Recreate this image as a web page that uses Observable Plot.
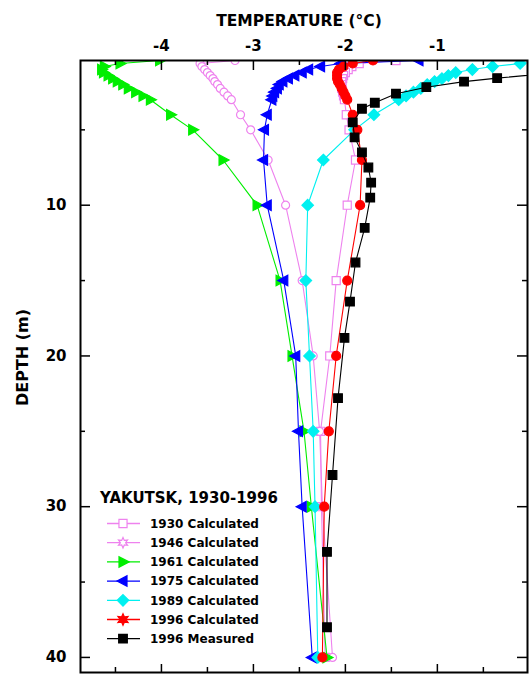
<!DOCTYPE html>
<html><head><meta charset="utf-8">
<script src="https://cdn.jsdelivr.net/npm/d3@7"></script>
<script src="https://cdn.jsdelivr.net/npm/@observablehq/plot@0.6"></script>
<style>
body{margin:0;background:#fff;}
#wrap{position:relative;width:532px;height:675px;}
#legend{position:absolute;left:0;top:0;pointer-events:none;}
</style></head><body><div id="wrap"></div>
<script>
// ---- data ----
const depthCalc = [0.4,0.6,0.8,1.0,1.2,1.4,1.6,1.8,2.0,2.25,2.5,2.75,3.0,4,5,7,10,15,20,25,30,40];
const t1930 = [-1.45,-1.85,-1.93,-1.97,-2.00,-2.02,-2.03,-2.04,-2.04,-2.04,-2.03,-2.02,-2.01,-1.99,-1.96,-1.89,-1.98,-2.10,-2.17,-2.27,-2.26,-2.22];
const t1946 = [-3.20,-3.58,-3.56,-3.53,-3.50,-3.47,-3.44,-3.42,-3.39,-3.36,-3.32,-3.28,-3.24,-3.14,-3.03,-2.84,-2.65,-2.47,-2.35,-2.28,-2.25,-2.14];
const t1961 = [-4.02,-4.45,-4.62,-4.65,-4.63,-4.58,-4.53,-4.48,-4.42,-4.36,-4.28,-4.20,-4.12,-3.90,-3.66,-3.33,-2.96,-2.71,-2.58,-2.45,-2.37,-2.20];
const t1975 = [-1.20,-2.05,-2.27,-2.40,-2.47,-2.55,-2.62,-2.68,-2.72,-2.74,-2.77,-2.79,-2.80,-2.85,-2.88,-2.89,-2.85,-2.67,-2.54,-2.51,-2.47,-2.36];
const t1989 = [0.05,-0.10,-0.40,-0.62,-0.80,-0.88,-0.95,-1.03,-1.11,-1.18,-1.26,-1.34,-1.42,-1.69,-1.90,-2.24,-2.41,-2.43,-2.39,-2.35,-2.33,-2.30];
const t1996c = [-1.70,-1.92,-2.02,-2.07,-2.09,-2.09,-2.09,-2.08,-2.06,-2.04,-2.02,-2.00,-1.98,-1.92,-1.87,-1.82,-1.84,-1.98,-2.10,-2.18,-2.23,-2.25];
const depthMeas = [1.2,1.57,1.8,2.17,2.6,3.2,3.6,4.5,5.5,6.5,7.5,8.5,9.5,11.5,13.8,16.4,18.8,22.8,27.9,33,38];
const tMeas = [0.3,-0.35,-0.71,-1.12,-1.45,-1.68,-1.82,-1.92,-1.90,-1.82,-1.75,-1.72,-1.73,-1.79,-1.89,-1.95,-2.01,-2.08,-2.14,-2.20,-2.20];

const seriesNames = ["1930 Calculated","1946 Calculated","1961 Calculated","1975 Calculated","1989 Calculated","1996 Calculated","1996 Measured"];
const xMajor = [-4,-3,-2,-1];
const xMinor = [-4.5,-3.5,-2.5,-1.5,-0.5];
const yMajor = [10,20,30,40];
const yMinor = [5,15,25,35];
const titleText = "TEMPERATURE (°C)";
const yTitle = "DEPTH (m)";
const legendTitle = "YAKUTSK, 1930-1996";

// ---- symbols ----
const R = s => Math.sqrt(s/Math.PI);
const sym = {
  square:{draw(c,s){const a=R(s)*0.9;c.moveTo(-a,-a);c.lineTo(a,-a);c.lineTo(a,a);c.lineTo(-a,a);c.closePath();}},
  circle:{draw(c,s){const r=R(s);c.moveTo(r,0);c.arc(0,0,r,0,2*Math.PI);c.closePath();}},
  triR:{draw(c,s){const r=R(s);c.moveTo(r*1.2,0);c.lineTo(-r*0.8,-r*1.05);c.lineTo(-r*0.8,r*1.05);c.closePath();}},
  triL:{draw(c,s){const r=R(s);c.moveTo(-r*1.2,0);c.lineTo(r*0.8,-r*1.05);c.lineTo(r*0.8,r*1.05);c.closePath();}},
  diamond:{draw(c,s){const r=R(s)*1.15;c.moveTo(0,-r);c.lineTo(r,0);c.lineTo(0,r);c.lineTo(-r,0);c.closePath();}},
  star:{draw(c,s){const r=R(s)*1.3, ri=r*0.5;for(let i=0;i<12;i++){const a=i*Math.PI/6-Math.PI/2, rr=i%2?ri:r;const x=rr*Math.cos(a),y=rr*Math.sin(a);i?c.lineTo(x,y):c.moveTo(x,y);}c.closePath();}}
};

const series = [
  {name:seriesNames[0], depths:depthCalc, temps:t1930, color:"#ee82ee", symbol:sym.square, fill:"white", r:4.5, lsym:sym.square},
  {name:seriesNames[1], depths:depthCalc, temps:t1946, color:"#ee82ee", symbol:sym.circle, fill:"white", r:4, lsym:sym.star},
  {name:seriesNames[2], depths:depthCalc, temps:t1961, color:"#00ee00", symbol:sym.triR, fill:"#00ee00", r:5, lsym:sym.triR},
  {name:seriesNames[3], depths:depthCalc, temps:t1975, color:"#0000ff", symbol:sym.triL, fill:"#0000ff", r:5, lsym:sym.triL},
  {name:seriesNames[4], depths:depthCalc, temps:t1989, color:"#00f0f0", symbol:sym.diamond, fill:"#00f0f0", r:5, lsym:sym.diamond},
  {name:seriesNames[5], depths:depthCalc, temps:t1996c, color:"#ff0000", symbol:sym.circle, fill:"#ff0000", r:4.5, lsym:sym.star},
  {name:seriesNames[6], depths:depthMeas, temps:tMeas, color:"#000000", symbol:sym.square, fill:"#000000", r:4.8, lsym:sym.square}
];

const W=532, H=675, mL=80, mR=5, mT=60, mB=3;
const innerW=W-mL-mR, innerH=H-mT-mB;
const font = "'DejaVu Sans', Verdana, sans-serif";

const marks = [];
for (const s of series) {
  const rows = s.depths.map((d,i)=>({depth:d, temp:s.temps[i]}));
  marks.push(Plot.line(rows, {x:"temp", y:"depth", stroke:s.color, strokeWidth:1.1, clip:true}));
  marks.push(Plot.dot(rows, {x:"temp", y:"depth", symbol:s.symbol, r:s.r, fill:s.fill, stroke:s.color, strokeWidth:1.2, clip:true}));
}
marks.push(
  Plot.tickX(xMajor, {x:d=>d, insetBottom:innerH-10, stroke:"black", strokeWidth:1.5}),
  Plot.tickX(xMinor, {x:d=>d, insetBottom:innerH-5, stroke:"black", strokeWidth:1.5}),
  Plot.tickX(xMajor, {x:d=>d, insetTop:innerH-8, stroke:"black", strokeWidth:1.5}),
  Plot.tickX(xMinor, {x:d=>d, insetTop:innerH-5, stroke:"black", strokeWidth:1.5}),
  Plot.tickY(yMajor, {y:d=>d, insetRight:innerW-10, stroke:"black", strokeWidth:1.5}),
  Plot.tickY(yMinor, {y:d=>d, insetRight:innerW-5, stroke:"black", strokeWidth:1.5}),
  Plot.tickY(yMajor, {y:d=>d, insetLeft:innerW-10, stroke:"black", strokeWidth:1.5}),
  Plot.tickY(yMinor, {y:d=>d, insetLeft:innerW-5, stroke:"black", strokeWidth:1.5}),
  Plot.frame({stroke:"black", strokeWidth:2}),
  Plot.axisX(xMajor, {anchor:"top", tickSize:0, tickPadding:10, tickFormat:d=>String(d), fontSize:15, fontWeight:"bold", fill:"black", label:null}),
  Plot.axisY(yMajor, {anchor:"left", tickSize:0, tickPadding:14, tickFormat:d=>String(d), fontSize:15, fontWeight:"bold", fill:"black", label:null}),
  Plot.text([titleText], {text:d=>d, frameAnchor:"top", dx:-5, dy:-46, fontSize:15.5, fontWeight:"bold", fill:"black"}),
  Plot.text([yTitle], {text:d=>d, frameAnchor:"left", textAnchor:"middle", dx:-58, dy:-9, rotate:-90, fontSize:16, fontWeight:"bold", fill:"black"})
);

const chart = Plot.plot({
  width:W, height:H, marginLeft:mL, marginRight:mR, marginTop:mT, marginBottom:mB,
  x:{domain:[-4.88,-0.02]},
  y:{domain:[0.4,41], reverse:true},
  style:{fontFamily:font, background:"white", color:"black"},
  marks
});
const wrap = document.getElementById("wrap");
wrap.appendChild(chart);

// ---- legend ----
const lg = d3.select(wrap).append("svg").attr("id","legend").attr("width",W).attr("height",H)
  .style("font-family", font);
lg.append("text").attr("x",100).attr("y",503).attr("font-size",15).attr("font-weight","bold")
  .attr("fill","black").text(legendTitle);
series.forEach((s,i)=>{
  const y = 523.5 + i*19.2;
  lg.append("line").attr("x1",107).attr("x2",140).attr("y1",y).attr("y2",y).attr("stroke",s.color).attr("stroke-width",1.3);
  lg.append("path").attr("d", d3.symbol(s.lsym, Math.PI*s.r*s.r)()).attr("transform",`translate(123,${y})`)
    .attr("fill", s.fill).attr("stroke", s.color).attr("stroke-width",1.2);
  lg.append("text").attr("x",150).attr("y",y+4.3).attr("font-size",12).attr("font-weight","bold")
    .attr("fill","black").text(s.name);
});
</script></body></html>
